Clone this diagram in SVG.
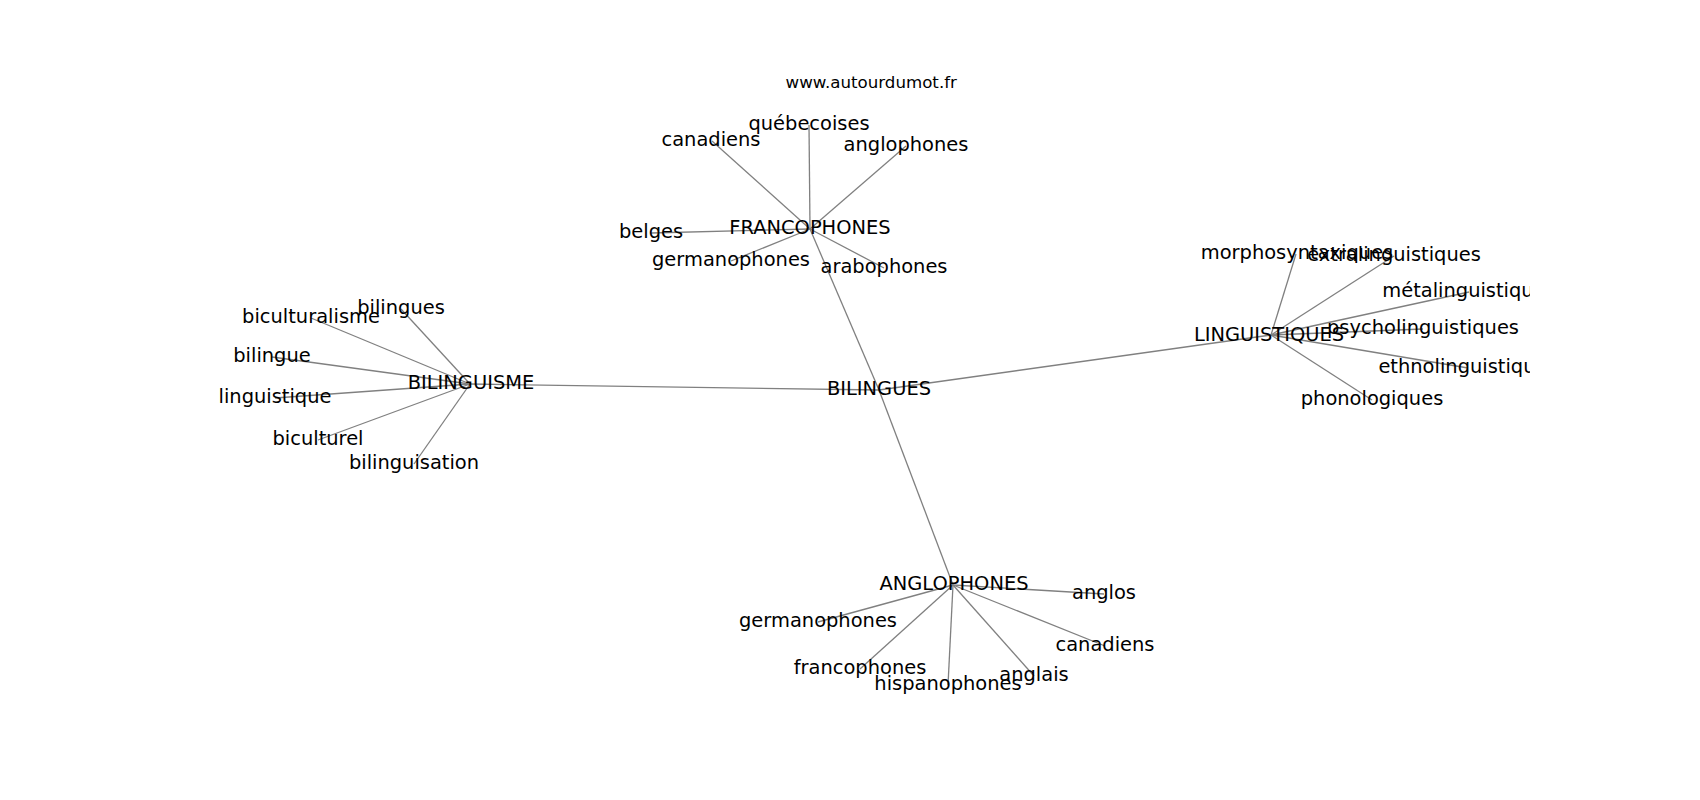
<svg xmlns="http://www.w3.org/2000/svg" width="1700" height="800" viewBox="0 0 1700 800">
<defs>
<clipPath id="ax"><rect x="212.5" y="96" width="1317.5" height="616"/></clipPath>
<style>
.e{stroke:#808080;stroke-width:1.3;fill:none}
text{font-family:"DejaVu Sans","Noto Sans",sans-serif;fill:#000}
.n text{font-size:19.44px;text-anchor:middle}
.t{font-size:16.67px;text-anchor:middle}
</style>
</defs>
<rect width="1700" height="800" fill="#fff"/>
<text class="t" x="871.25" y="88">www.autourdumot.fr</text>
<g clip-path="url(#ax)">
<g id="edges" class="e">
<line x1="879" y1="390" x2="810" y2="229"/>
<line x1="879" y1="390" x2="470" y2="384"/>
<line x1="879" y1="390" x2="1271" y2="335"/>
<line x1="879" y1="390" x2="953" y2="585"/>
<line x1="810" y1="229" x2="809" y2="125"/>
<line x1="810" y1="229" x2="712" y2="141"/>
<line x1="810" y1="229" x2="906" y2="146"/>
<line x1="810" y1="229" x2="651" y2="233"/>
<line x1="810" y1="229" x2="731" y2="261"/>
<line x1="810" y1="229" x2="884" y2="268"/>
<line x1="470" y1="384" x2="401" y2="309"/>
<line x1="470" y1="384" x2="311" y2="318"/>
<line x1="470" y1="384" x2="272" y2="357"/>
<line x1="470" y1="384" x2="275" y2="398"/>
<line x1="470" y1="384" x2="318" y2="440"/>
<line x1="470" y1="384" x2="414" y2="464"/>
<line x1="1271" y1="335" x2="1296" y2="254"/>
<line x1="1271" y1="335" x2="1394" y2="256"/>
<line x1="1271" y1="335" x2="1469" y2="292"/>
<line x1="1271" y1="335" x2="1423" y2="329"/>
<line x1="1271" y1="335" x2="1468" y2="368"/>
<line x1="1271" y1="335" x2="1372" y2="400"/>
<line x1="953" y1="585" x2="1104" y2="594"/>
<line x1="953" y1="585" x2="818" y2="622"/>
<line x1="953" y1="585" x2="1105" y2="646"/>
<line x1="953" y1="585" x2="860" y2="669"/>
<line x1="953" y1="585" x2="948" y2="685"/>
<line x1="953" y1="585" x2="1034" y2="676"/>
</g>
<g class="n">
<g id="n-bilingues"><text x="879" y="395">BILINGUES</text></g>
<g id="n-francophones"><text x="810" y="234">FRANCOPHONES</text></g>
<g id="n-quebecoises"><text x="809" y="130">québecoises</text></g>
<g id="n-canadiens1"><text x="711" y="146">canadiens</text></g>
<g id="n-anglophones1"><text x="906" y="151">anglophones</text></g>
<g id="n-belges"><text x="651" y="238">belges</text></g>
<g id="n-germanophones1"><text x="731" y="266">germanophones</text></g>
<g id="n-arabophones"><text x="884" y="273">arabophones</text></g>
<g id="n-bilinguisme"><text x="471" y="389">BILINGUISME</text></g>
<g id="n-bilingues2"><text x="401" y="314">bilingues</text></g>
<g id="n-biculturalisme"><text x="311" y="323">biculturalisme</text></g>
<g id="n-bilingue"><text x="272" y="362">bilingue</text></g>
<g id="n-linguistique"><text x="275" y="403">linguistique</text></g>
<g id="n-biculturel"><text x="318" y="445">biculturel</text></g>
<g id="n-bilinguisation"><text x="414" y="469">bilinguisation</text></g>
<g id="n-linguistiques"><text x="1269" y="341">LINGUISTIQUES</text></g>
<g id="n-morphosyntaxiques"><text x="1297" y="259">morphosyntaxiques</text></g>
<g id="n-extralinguistiques"><text x="1394" y="261">extralinguistiques</text></g>
<g id="n-metalinguistiques"><text x="1469" y="297">métalinguistiques</text></g>
<g id="n-psycholinguistiques"><text x="1423" y="334">psycholinguistiques</text></g>
<g id="n-ethnolinguistiques"><text x="1468" y="373">ethnolinguistiques</text></g>
<g id="n-phonologiques"><text x="1372" y="405">phonologiques</text></g>
<g id="n-anglophones"><text x="954" y="590">ANGLOPHONES</text></g>
<g id="n-anglos"><text x="1104" y="599">anglos</text></g>
<g id="n-germanophones2"><text x="818" y="627">germanophones</text></g>
<g id="n-canadiens2"><text x="1105" y="651">canadiens</text></g>
<g id="n-francophones2"><text x="860" y="674">francophones</text></g>
<g id="n-hispanophones"><text x="948" y="690">hispanophones</text></g>
<g id="n-anglais"><text x="1034" y="681">anglais</text></g>
</g>
</g>
</svg>
